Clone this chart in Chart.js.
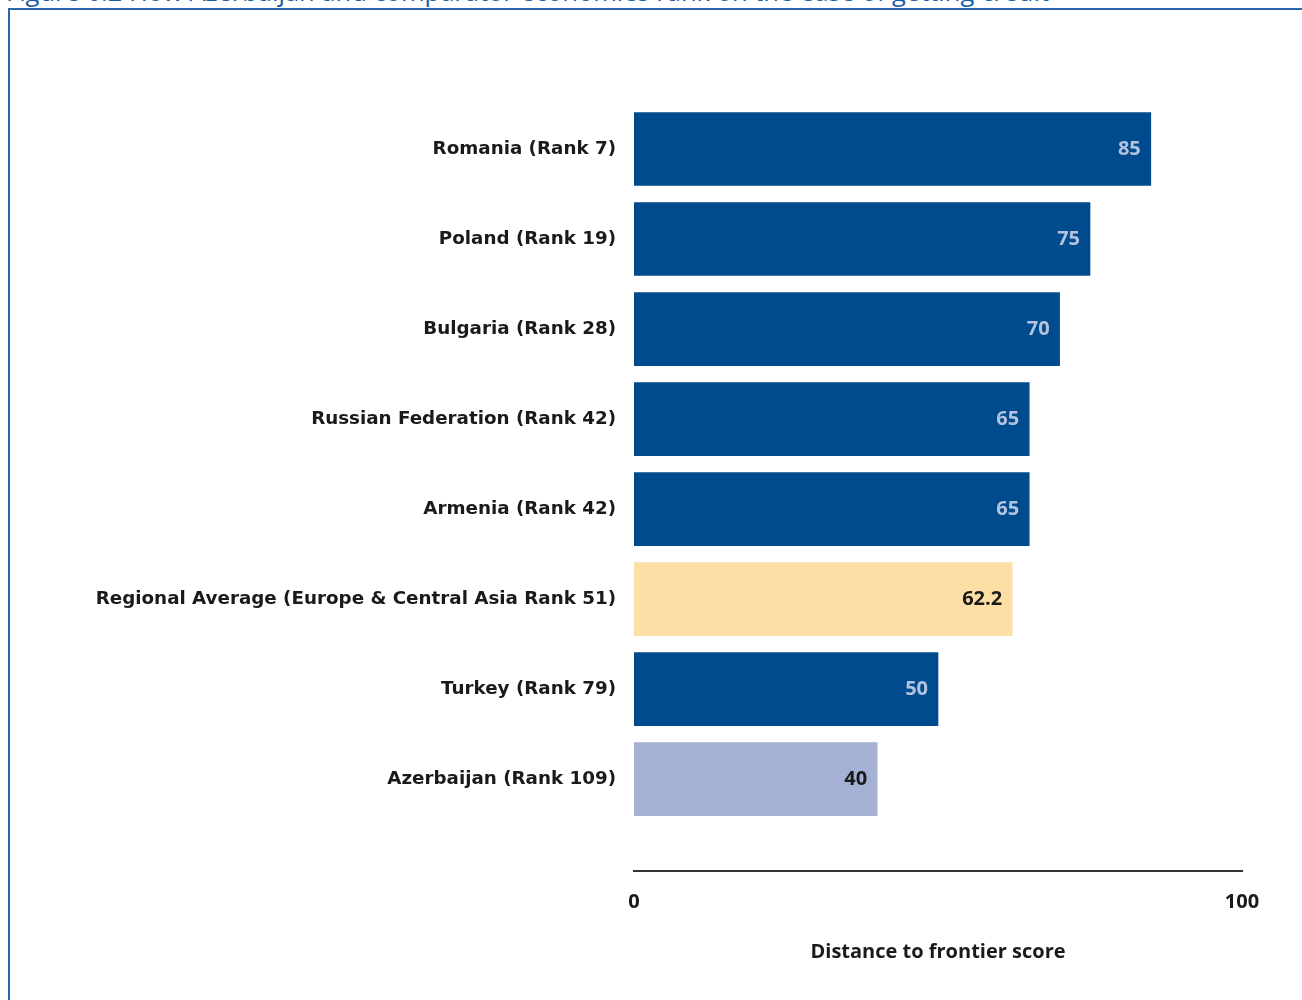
<!DOCTYPE html>
<html>
<head>
<meta charset="utf-8">
<script src="https://cdn.jsdelivr.net/npm/chart.js@4/dist/chart.umd.min.js"></script>
<style>
  html, body { margin: 0; padding: 0; background: #fff; overflow: hidden; }
  #wrap { position: relative; width: 1302px; height: 1000px; }
  #title { position: absolute; left: 6px; top: -21px; font-family: "Open Sans", sans-serif; font-size: 25.5px; color: #1a5ca4; white-space: nowrap; line-height: 1; }
  #frame { position: absolute; left: 8px; top: 8px; width: 1400px; height: 1100px; border: 2px solid #2b66aa; }
  canvas { position: absolute; left: 0; top: 0; }
</style>
</head>
<body>
<div id="wrap">
  <div id="title">Figure 6.2 How Azerbaijan and comparator economies rank on the ease of getting credit</div>
  <div id="frame"></div>
  <canvas id="c" width="1302" height="1000"></canvas>
</div>
<script>
const categories = [
  "Romania (Rank 7)",
  "Poland (Rank 19)",
  "Bulgaria (Rank 28)",
  "Russian Federation (Rank 42)",
  "Armenia (Rank 42)",
  "Regional Average (Europe & Central Asia Rank 51)",
  "Turkey (Rank 79)",
  "Azerbaijan (Rank 109)"
];
const scores = [85, 75, 70, 65, 65, 62.2, 50, 40];
const valueLabels = ["85", "75", "70", "65", "65", "62.2", "50", "40"];
const barColors = ["#004b8d", "#004b8d", "#004b8d", "#004b8d", "#004b8d", "#fddfa6", "#004b8d", "#a5b1d4"];
const labelColors = ["#b3c2df", "#b3c2df", "#b3c2df", "#b3c2df", "#b3c2df", "#1a1a1a", "#b3c2df", "#1a1a1a"];
const xTicks = [0, 100];
const xTitle = "Distance to frontier score";

const LABEL_FONT = "'DejaVu Sans', sans-serif";
const FONT = "'Open Sans', sans-serif";

const barValueLabels = {
  id: 'barValueLabels',
  afterDatasetsDraw(chart) {
    const ctx = chart.ctx;
    const meta = chart.getDatasetMeta(0);
    ctx.save();
    ctx.font = "bold 20px " + FONT;
    ctx.textAlign = "right";
    ctx.textBaseline = "middle";
    meta.data.forEach((el, i) => {
      ctx.fillStyle = labelColors[i];
      ctx.fillText(valueLabels[i], el.x - 10, el.y);
    });
    ctx.restore();
  }
};

new Chart(document.getElementById('c'), {
  type: 'bar',
  data: {
    datasets: [{
      data: scores.map((v, i) => ({ x: v, y: i })),
      backgroundColor: barColors,
      borderWidth: 0,
      barThickness: 73
    }]
  },
  options: {
    indexAxis: 'y',
    responsive: false,
    animation: false,
    layout: { padding: { top: 104, right: 60, bottom: 0, left: 0 } },
    plugins: { legend: { display: false }, tooltip: { enabled: false } },
    scales: {
      y: {
        type: 'linear',
        reverse: true,
        offset: false,
        bounds: 'data',
        min: -0.5,
        max: 8.02,
        afterBuildTicks(scale) {
          scale.ticks = categories.map((_, i) => ({ value: i }));
          scale.min = -0.5;
          scale.max = 8.02;
        },
        afterFit(scale) { scale.width = 634; },
        grid: { display: false, drawTicks: false, offset: false },
        border: { display: false },
        ticks: {
          autoSkip: false,
          padding: 18,
          color: "#1a1a1a",
          font: { family: LABEL_FONT, size: 18.3, weight: 'bold' },
          callback: (v) => categories[v] !== undefined ? categories[v] : ''
        }
      },
      x: {
        type: 'linear',
        min: 0,
        max: 100,
        afterBuildTicks(scale) { scale.ticks = xTicks.map(v => ({ value: v })); },
        afterFit(scale) { scale.height = 129; },
        grid: { display: false, drawTicks: false },
        border: { display: true, color: "#333333", width: 2 },
        ticks: {
          padding: 19,
          color: "#1a1a1a",
          font: { family: FONT, size: 20, weight: 'bold' }
        },
        title: {
          display: true,
          text: xTitle,
          color: "#1a1a1a",
          font: { family: FONT, size: 20, weight: 'bold' },
          padding: { top: 0, bottom: 36 }
        }
      }
    }
  },
  plugins: [barValueLabels]
});
</script>
</body>
</html>
